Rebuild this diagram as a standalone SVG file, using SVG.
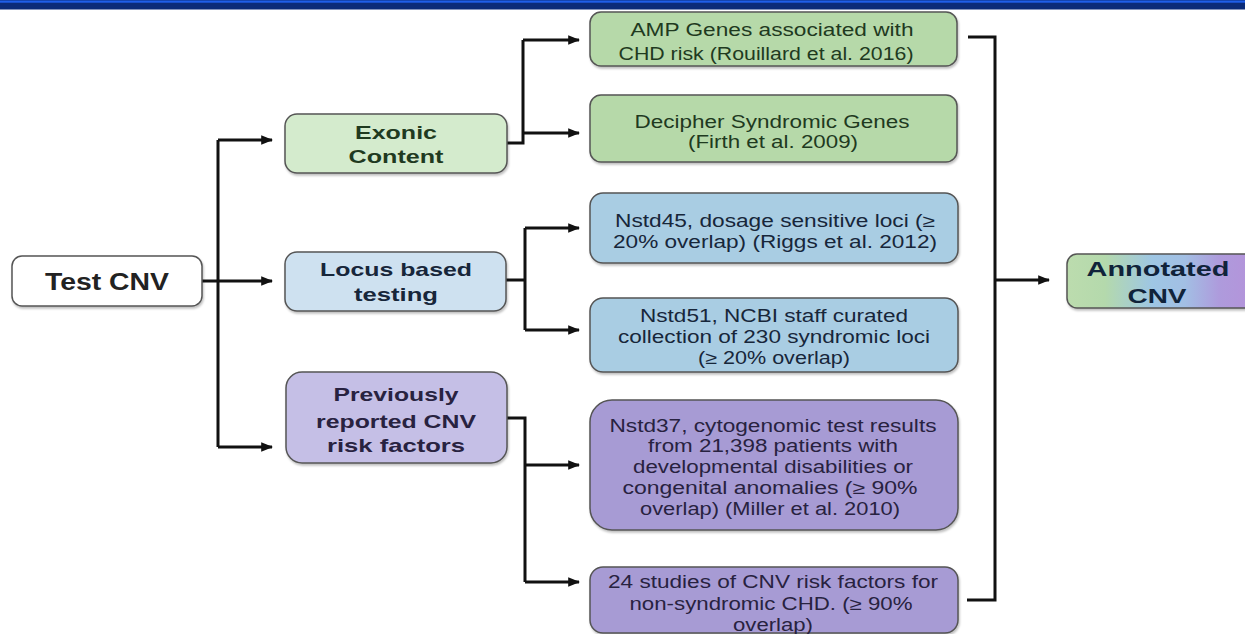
<svg xmlns="http://www.w3.org/2000/svg" width="1245" height="634" viewBox="0 0 1245 634">
<defs>
<marker id="ah" viewBox="0 0 10 10" refX="9" refY="5" markerWidth="4" markerHeight="4" orient="auto" markerUnits="strokeWidth">
<path d="M0,1 L10,5 L0,9 z" fill="#111"/>
</marker>
<linearGradient id="annot" x1="0" y1="0" x2="1" y2="0">
<stop offset="0" stop-color="#bcdcae"/>
<stop offset="0.2" stop-color="#b4d9ac"/>
<stop offset="0.45" stop-color="#9ec6e4"/>
<stop offset="0.62" stop-color="#a2bfe4"/>
<stop offset="0.8" stop-color="#ae9bdc"/>
<stop offset="1" stop-color="#b592da"/>
</linearGradient>
<filter id="sh" x="-5%" y="-10%" width="110%" height="130%">
<feDropShadow dx="1" dy="2" stdDeviation="1.2" flood-color="#000" flood-opacity="0.25"/>
</filter>
</defs>
<style>
.box{stroke:#555;stroke-width:1.5;filter:url(#sh)}
.b{font-family:"Liberation Sans",Arial,sans-serif;font-weight:bold;text-anchor:middle}
.r{font-family:"Liberation Sans",Arial,sans-serif;font-size:17.5px;text-anchor:middle}
.con{fill:none;stroke:#111;stroke-width:3}
.arr{fill:none;stroke:#111;stroke-width:3;marker-end:url(#ah)}
.g{fill:#1f3a1f}.bl{fill:#17263a}.p{fill:#282240}
</style>
<rect x="0" y="0" width="1245" height="9.5" fill="#0b2b78"/>
<rect x="0" y="0.5" width="1245" height="2.2" fill="#1f5fe8"/>

<g id="connectors">
<path class="con" d="M202,281 H218 M218,140 V447"/>
<path class="arr" d="M218,140 H272"/>
<path class="arr" d="M218,281 H272"/>
<path class="arr" d="M218,447 H272"/>
<path class="con" d="M507,143 H523 V40"/>
<path class="arr" d="M523,40 H579"/>
<path class="arr" d="M523,133 H579"/>
<path class="con" d="M506,280 H525 M525,228 V330"/>
<path class="arr" d="M525,228 H579"/>
<path class="arr" d="M525,330 H579"/>
<path class="con" d="M507,418 H525 V582"/>
<path class="arr" d="M525,465 H579"/>
<path class="arr" d="M525,582 H579"/>
<path class="con" d="M968,37 H995 V600 H967"/>
<path class="arr" d="M995,280 H1049"/>
</g>

<g id="test-cnv">
<rect class="box" x="12" y="256" width="190" height="50" rx="10" fill="#fff"/>
<text class="b" x="107" y="290" font-size="23" fill="#222" textLength="124" lengthAdjust="spacingAndGlyphs">Test CNV</text>
</g>

<g id="exonic">
<rect class="box" x="285" y="114" width="222" height="59" rx="12" fill="#d4ebcd"/>
<text class="b g" x="396" y="139" font-size="18.5" textLength="82" lengthAdjust="spacingAndGlyphs">Exonic</text>
<text class="b g" x="396" y="163" font-size="18.5" textLength="95" lengthAdjust="spacingAndGlyphs">Content</text>
</g>

<g id="locus">
<rect class="box" x="285" y="252" width="221" height="59" rx="12" fill="#cee1f0"/>
<text class="b bl" x="396" y="276" font-size="18.5" textLength="152" lengthAdjust="spacingAndGlyphs">Locus based</text>
<text class="b bl" x="396" y="301" font-size="18.5" textLength="84" lengthAdjust="spacingAndGlyphs">testing</text>
</g>

<g id="previously">
<rect class="box" x="286" y="372" width="221" height="91" rx="16" fill="#c5bfe6"/>
<text class="b p" x="396" y="401" font-size="18.5" textLength="125" lengthAdjust="spacingAndGlyphs">Previously</text>
<text class="b p" x="396" y="428" font-size="18.5" textLength="160" lengthAdjust="spacingAndGlyphs">reported CNV</text>
<text class="b p" x="396" y="452" font-size="18.5" textLength="138" lengthAdjust="spacingAndGlyphs">risk factors</text>
</g>

<g id="amp">
<rect class="box" x="590" y="12" width="367" height="54" rx="11" fill="#b6d9a9"/>
<text class="r g" x="772" y="36" textLength="283" lengthAdjust="spacingAndGlyphs">AMP Genes associated with</text>
<text class="r g" x="766" y="60" textLength="295" lengthAdjust="spacingAndGlyphs">CHD risk (Rouillard et al. 2016)</text>
</g>

<g id="decipher">
<rect class="box" x="590" y="95" width="367" height="67" rx="11" fill="#b6d9a9"/>
<text class="r g" x="772" y="127.5" textLength="275" lengthAdjust="spacingAndGlyphs">Decipher Syndromic Genes</text>
<text class="r g" x="773" y="148" textLength="170" lengthAdjust="spacingAndGlyphs">(Firth et al. 2009)</text>
</g>

<g id="nstd45">
<rect class="box" x="590" y="193" width="368" height="70" rx="13" fill="#a9cde3"/>
<text class="r bl" x="775" y="227" textLength="320" lengthAdjust="spacingAndGlyphs">Nstd45, dosage sensitive loci (≥</text>
<text class="r bl" x="775" y="248" textLength="324" lengthAdjust="spacingAndGlyphs">20% overlap) (Riggs et al. 2012)</text>
</g>

<g id="nstd51">
<rect class="box" x="590" y="298" width="368" height="74" rx="13" fill="#a9cde3"/>
<text class="r bl" x="774" y="322" textLength="268" lengthAdjust="spacingAndGlyphs">Nstd51, NCBI staff curated</text>
<text class="r bl" x="774" y="343" textLength="312" lengthAdjust="spacingAndGlyphs">collection of 230 syndromic loci</text>
<text class="r bl" x="774" y="364" textLength="152" lengthAdjust="spacingAndGlyphs">(≥ 20% overlap)</text>
</g>

<g id="nstd37">
<rect class="box" x="590" y="400" width="368" height="130" rx="22" fill="#a79bd4"/>
<text class="r p" x="773" y="432" textLength="327" lengthAdjust="spacingAndGlyphs">Nstd37, cytogenomic test results</text>
<text class="r p" x="773" y="452" textLength="250" lengthAdjust="spacingAndGlyphs">from 21,398 patients with</text>
<text class="r p" x="773" y="473" textLength="280" lengthAdjust="spacingAndGlyphs">developmental disabilities or</text>
<text class="r p" x="770" y="494" textLength="295" lengthAdjust="spacingAndGlyphs">congenital anomalies (≥ 90%</text>
<text class="r p" x="770" y="515" textLength="260" lengthAdjust="spacingAndGlyphs">overlap) (Miller et al. 2010)</text>
</g>

<g id="studies24">
<rect class="box" x="590" y="567" width="368" height="66" rx="13" fill="#a79bd4"/>
<text class="r p" x="773" y="588" textLength="330" lengthAdjust="spacingAndGlyphs">24 studies of CNV risk factors for</text>
<text class="r p" x="771" y="610" textLength="283" lengthAdjust="spacingAndGlyphs">non-syndromic CHD. (≥ 90%</text>
<text class="r p" x="773" y="631" textLength="80" lengthAdjust="spacingAndGlyphs">overlap)</text>
</g>

<g id="annotated">
<rect class="box" x="1067" y="254" width="190" height="54" rx="10" fill="url(#annot)"/>
<text class="b" x="1158" y="276" font-size="21" fill="#10233a" textLength="143" lengthAdjust="spacingAndGlyphs">Annotated</text>
<text class="b" x="1157" y="303" font-size="21" fill="#10233a" textLength="59" lengthAdjust="spacingAndGlyphs">CNV</text>
</g>
</svg>
